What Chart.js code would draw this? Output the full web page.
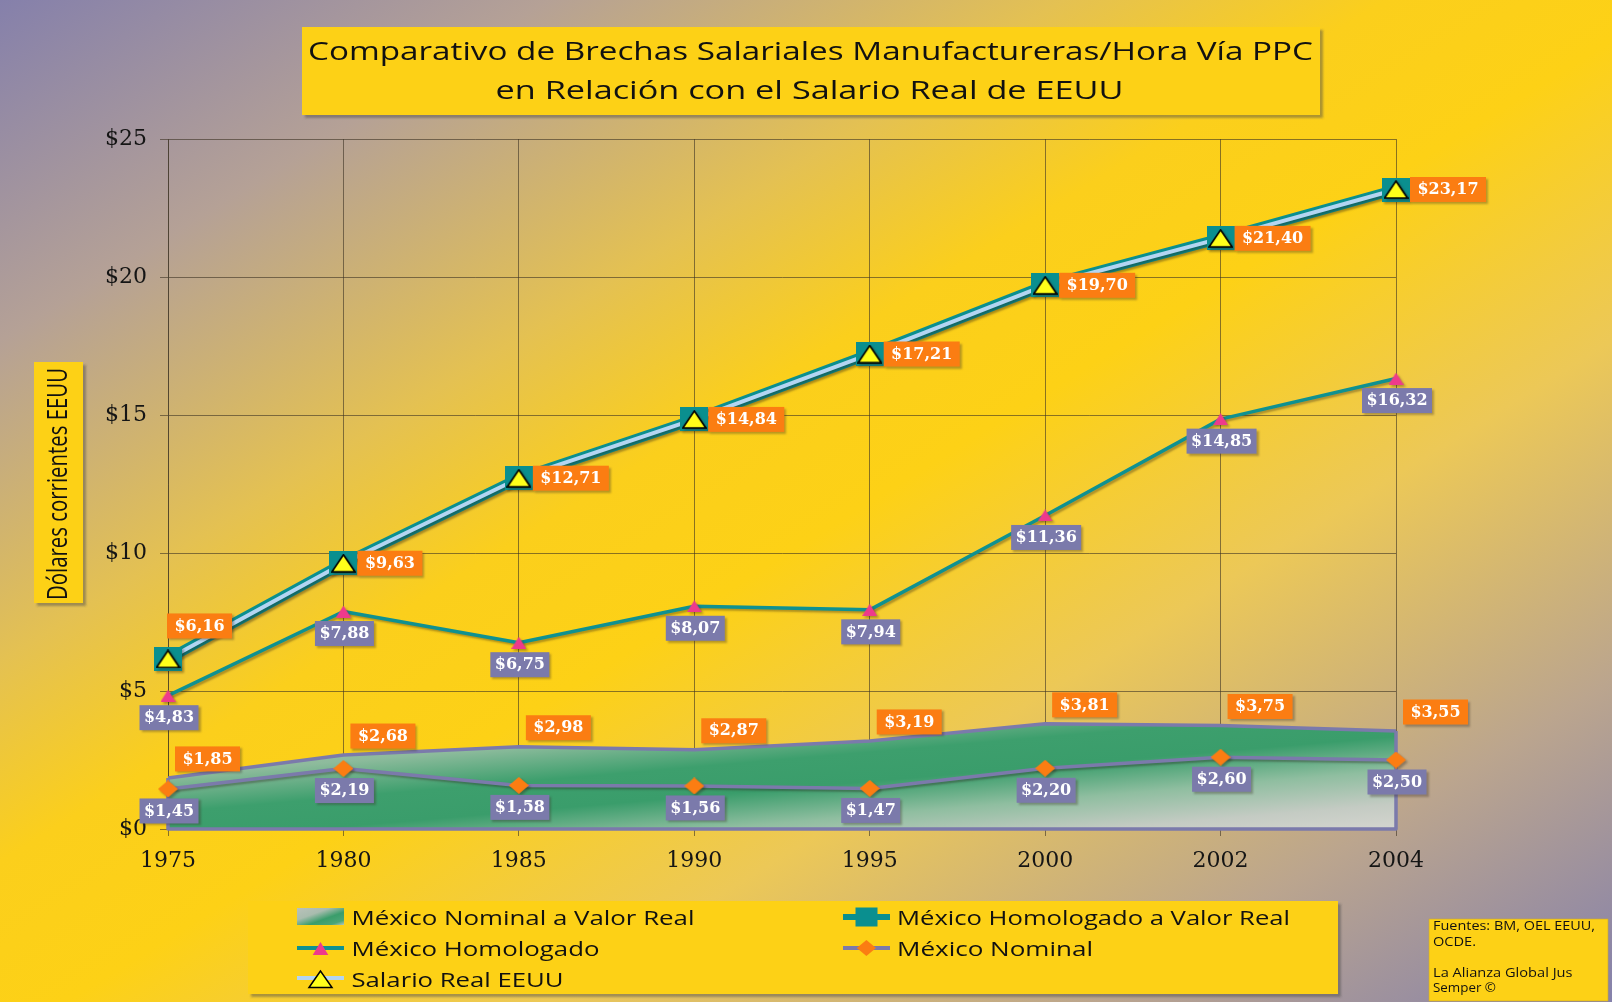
<!DOCTYPE html>
<html><head><meta charset="utf-8">
<script src="https://cdn.jsdelivr.net/npm/chart.js@4.4.1/dist/chart.umd.min.js"></script>
<style>
html,body{margin:0;padding:0;}
body{width:1612px;height:1002px;overflow:hidden;
background:linear-gradient(to bottom right,#8580ab 0%,#b5a196 17%,#e4c152 33%,#fbcf1c 43%,#fdd116 52%,#ecc857 67%,#bba58e 84%,#8581ab 100%);}
#wrap{position:relative;width:1612px;height:1002px;}
#c{position:absolute;left:0;top:0;}
#ov{position:absolute;left:0;top:0;pointer-events:none;}
#ov text{font-family:'Open Sans',sans-serif;fill:#111;}
</style></head>
<body>
<div id="wrap">
<canvas id="c" width="1612" height="1002"></canvas>
<svg id="ov" width="1612" height="1002" viewBox="0 0 1612 1002" xmlns="http://www.w3.org/2000/svg">
<defs>
<filter id="sh" x="-5%" y="-5%" width="115%" height="130%"><feDropShadow dx="3" dy="3" stdDeviation="1.2" flood-color="#4a4a4a" flood-opacity="0.45"/></filter>
<linearGradient id="swg" x1="0" y1="0" x2="1" y2="1">
<stop offset="0" stop-color="#b9c2ba"/><stop offset="0.35" stop-color="#a9bcae"/><stop offset="0.62" stop-color="#3a9d6b"/><stop offset="0.85" stop-color="#4aa577"/><stop offset="1" stop-color="#b8c6bc"/>
</linearGradient>
</defs>
<!-- title -->
<rect x="302" y="27" width="1018" height="88" fill="#fdd116" filter="url(#sh)"/>
<text x="308" y="60" font-size="26" textLength="1005" lengthAdjust="spacingAndGlyphs">Comparativo de Brechas Salariales Manufactureras/Hora Vía PPC</text>
<text x="495.5" y="99" font-size="26" textLength="628" lengthAdjust="spacingAndGlyphs">en Relación con el Salario Real de EEUU</text>
<!-- y title -->
<rect x="34" y="362" width="49" height="241" fill="#fdd116" filter="url(#sh)"/>
<text transform="translate(66.5,600) rotate(-90)" x="0" y="0" font-size="27" textLength="232" lengthAdjust="spacingAndGlyphs">Dólares corrientes EEUU</text>
<!-- legend -->
<rect x="248" y="901" width="1090" height="93" fill="#fdd116" filter="url(#sh)"/>
<rect x="297" y="908" width="47" height="17" fill="url(#swg)"/>
<text x="351.5" y="925" font-size="20" textLength="343" lengthAdjust="spacingAndGlyphs">México Nominal a Valor Real</text>
<line x1="843" y1="917" x2="890" y2="917" stroke="#0a8f8f" stroke-width="6"/>
<rect x="855.5" y="907.5" width="22" height="19" fill="#0a8f8f"/>
<text x="897" y="925" font-size="20" textLength="393" lengthAdjust="spacingAndGlyphs">México Homologado a Valor Real</text>
<line x1="297" y1="948" x2="344" y2="948" stroke="#0f9190" stroke-width="4"/>
<polygon points="320.5,942 312.7,955 328.3,955" fill="#ee3a8c"/>
<text x="351.5" y="956" font-size="20" textLength="248" lengthAdjust="spacingAndGlyphs">México Homologado</text>
<line x1="843" y1="948" x2="890" y2="948" stroke="#7b7aab" stroke-width="4"/>
<polygon points="866.4,940 876,948 866.4,956 856.8,948" fill="#fb7d12"/>
<text x="897" y="956" font-size="20" textLength="196" lengthAdjust="spacingAndGlyphs">México Nominal</text>
<line x1="297" y1="978" x2="344" y2="978" stroke="#b3d5f2" stroke-width="4"/>
<polygon points="320.5,971 309,987.5 332,987.5" fill="#ffff1a" stroke="#000" stroke-width="1.5"/>
<text x="351.5" y="987" font-size="20" textLength="212" lengthAdjust="spacingAndGlyphs">Salario Real EEUU</text>
<!-- source -->
<rect x="1429" y="919" width="179" height="82" fill="#fdd116" stroke="#c9a830" stroke-width="0.6"/>
<text x="1433" y="930" font-size="12.5" textLength="162" lengthAdjust="spacingAndGlyphs">Fuentes: BM, OEL EEUU,</text>
<text x="1433" y="945.5" font-size="12.5" textLength="43" lengthAdjust="spacingAndGlyphs">OCDE.</text>
<text x="1433" y="976.5" font-size="12.5" textLength="139.5" lengthAdjust="spacingAndGlyphs">La Alianza Global Jus</text>
<text x="1433" y="992" font-size="12.5" textLength="63" lengthAdjust="spacingAndGlyphs">Semper ©</text>
</svg>
</div>
<script>
// ---- data ----
const years = ['1975','1980','1985','1990','1995','2000','2002','2004'];
const yTicks = [0, 5, 10, 15, 20, 25];
const mexicoNominalValorReal = [1.85, 2.68, 2.98, 2.87, 3.19, 3.81, 3.75, 3.55];
const mexicoHomologadoValorReal = [6.16, 9.63, 12.71, 14.84, 17.21, 19.70, 21.40, 23.17];
const mexicoHomologado = [4.83, 7.88, 6.75, 8.07, 7.94, 11.36, 14.85, 16.32];
const mexicoNominal = [1.45, 2.19, 1.58, 1.56, 1.47, 2.20, 2.60, 2.50];
const salarioRealEEUU = [6.16, 9.63, 12.71, 14.84, 17.21, 19.70, 21.40, 23.17];

// ---- styles ----
const TEAL = '#0a8f8f', TEAL2 = '#0f9190', PURPLE = '#7b7aab', ORANGE = '#fb7d12',
      PINK = '#ee3a8c', LBLUE = '#b3d5f2', YELLOW = '#ffff1a';

function mk(w, h, draw) {
  const c = document.createElement('canvas'); c.width = w; c.height = h;
  draw(c.getContext('2d'), w, h); return c;
}
const tealRect = mk(28, 24, (g, w, h) => { g.fillStyle = TEAL; g.fillRect(0, 0, w, h); });
const yellowTri = mk(25, 19, (g, w, h) => {
  g.beginPath(); g.moveTo(w / 2, 1); g.lineTo(w - 1, h - 1); g.lineTo(1, h - 1); g.closePath();
  g.fillStyle = YELLOW; g.fill(); g.lineWidth = 1.6; g.strokeStyle = '#000'; g.lineJoin = 'miter'; g.stroke();
});
const pinkTri = mk(15, 12, (g, w, h) => {
  g.beginPath(); g.moveTo(w / 2, 0); g.lineTo(w, h); g.lineTo(0, h); g.closePath(); g.fillStyle = PINK; g.fill();
});
const diamond = mk(20, 17, (g, w, h) => {
  g.beginPath(); g.moveTo(w / 2, 0); g.lineTo(w, h / 2); g.lineTo(w / 2, h); g.lineTo(0, h / 2); g.closePath();
  g.fillStyle = ORANGE; g.fill();
});

function areaGradient(ctx) {
  const c = ctx.chart;
  if (!c.chartArea) return 'rgba(0,0,0,0)';
  const xs = c.scales.x, ys = c.scales.y;
  const x0 = xs.getPixelForValue(0), x1 = xs.getPixelForValue(years.length - 1);
  const y0 = ys.getPixelForValue(Math.max(...mexicoNominalValorReal)), y1 = ys.getPixelForValue(0);
  const W = x1 - x0, H = y1 - y0;
  const s = 2 / (1 / (W * W) + 1 / (H * H));
  const g = c.ctx.createLinearGradient(x0, y0, x0 + s / W, y0 + s / H);
  g.addColorStop(0, '#b8c4ba');
  g.addColorStop(0.25, '#8dbb9c');
  g.addColorStop(0.42, '#3d9f6d');
  g.addColorStop(0.56, '#3a9d6b');
  g.addColorStop(0.72, '#8fbea0');
  g.addColorStop(0.88, '#c4cbc3');
  g.addColorStop(1, '#d4d5cf');
  return g;
}

const AREA = 0, NOM = 1, HOM = 2, HVRL = 3, SALL = 4, HVRP = 5, SALP = 6;

const datasets = [
  { data: mexicoNominalValorReal, fill: 'origin', backgroundColor: areaGradient, borderColor: PURPLE, borderWidth: 3.5, pointRadius: 0, order: 10, clip: false },
  { data: mexicoNominal, fill: false, borderColor: PURPLE, borderWidth: 3.5, pointStyle: diamond, pointRadius: 10, order: 9, clip: false },
  { data: mexicoHomologado, fill: false, borderColor: TEAL2, borderWidth: 3.5, pointStyle: pinkTri, pointRadius: 8, order: 8, clip: false },
  { data: mexicoHomologadoValorReal, fill: false, borderColor: TEAL, borderWidth: 10, pointRadius: 0, order: 7, clip: false },
  { data: salarioRealEEUU, fill: false, borderColor: LBLUE, borderWidth: 4, pointRadius: 0, order: 6, clip: false },
  { data: mexicoHomologadoValorReal, showLine: false, pointStyle: tealRect, pointRadius: 14, order: 5, clip: false },
  { data: salarioRealEEUU, showLine: false, pointStyle: yellowTri, pointRadius: 12, order: 4, clip: false }
];

function fmt(v) { return '$' + v.toFixed(2).replace('.', ','); }

const labelSpecs = [
  { ds: SALP, color: ORANGE, pad: 15, place: 'right' },
  { ds: AREA, color: ORANGE, pad: 15, place: 'aboveRight' },
  { ds: HOM, color: PURPLE, pad: 9, place: 'below' },
  { ds: NOM, color: PURPLE, pad: 9, place: 'below' }
];

const fxPlugin = {
  id: 'fx',
  beforeDatasetDraw(chart, args) {
    const ctx = chart.ctx; ctx.save();
    if (args.index !== AREA) {
      ctx.shadowColor = 'rgba(40,30,20,0.35)'; ctx.shadowOffsetX = 2; ctx.shadowOffsetY = 2; ctx.shadowBlur = 2;
    }
  },
  afterDatasetDraw(chart, args) {
    const ctx = chart.ctx; ctx.restore();
    if (args.index === AREA) {
      const pts = args.meta.data, ys = chart.scales.y;
      const yb = ys.getPixelForValue(0);
      ctx.save();
      ctx.strokeStyle = PURPLE; ctx.lineWidth = 3.5; ctx.lineJoin = 'round';
      ctx.beginPath();
      ctx.moveTo(pts[0].x, pts[0].y); ctx.lineTo(pts[0].x, yb);
      ctx.lineTo(pts[pts.length - 1].x, yb); ctx.lineTo(pts[pts.length - 1].x, pts[pts.length - 1].y);
      ctx.stroke(); ctx.restore();
    }
  },
  afterDatasetsDraw(chart) {
    const ctx = chart.ctx;
    ctx.save();
    ctx.font = 'bold 16px "DejaVu Serif"';
    ctx.textAlign = 'center'; ctx.textBaseline = 'middle';
    const BH = 25;
    labelSpecs.forEach(spec => {
      const meta = chart.getDatasetMeta(spec.ds);
      const vals = chart.data.datasets[spec.ds].data;
      meta.data.forEach((p, i) => {
        const t = fmt(vals[i]);
        const bw = Math.round(ctx.measureText(t).width + spec.pad);
        let left, cy;
        if (spec.place === 'right') {
          if (i === 0) { left = p.x - 1; cy = p.y - 33; } else { left = p.x + 14; cy = p.y; }
        } else if (spec.place === 'aboveRight') { left = p.x + 7; cy = p.y - 19; }
        else { left = p.x - bw / 2 + 1; cy = p.y + 22; }
        const top = cy - BH / 2;
        ctx.save();
        ctx.shadowColor = 'rgba(60,50,40,0.35)'; ctx.shadowOffsetX = 2; ctx.shadowOffsetY = 2; ctx.shadowBlur = 2;
        ctx.fillStyle = spec.color; ctx.fillRect(left, top, bw, BH);
        ctx.restore();
        ctx.fillStyle = '#ffffff';
        ctx.fillText(t, left + bw / 2, cy + 0.5);
      });
    });
    ctx.restore();
  }
};

const GRID = 'rgba(60,50,35,0.6)';
new Chart(document.getElementById('c'), {
  type: 'line',
  data: { labels: years, datasets },
  options: {
    responsive: false, animation: false, events: [],
    layout: { padding: { left: 0, right: 216, top: 139, bottom: 0 } },
    plugins: { legend: { display: false }, title: { display: false }, tooltip: { enabled: false } },
    elements: { line: { tension: 0, borderJoinStyle: 'round', borderCapStyle: 'butt' } },
    scales: {
      x: {
        type: 'category', offset: false,
        grid: { color: GRID, lineWidth: 1, tickLength: 7, offset: false },
        border: { color: GRID, width: 1 },
        ticks: { color: '#151515', font: { family: 'DejaVu Serif', size: 22 }, padding: 12, maxRotation: 0, autoSkip: false },
        afterFit: s => { s.height = 173; }
      },
      y: {
        min: 0, max: 25,
        grid: { color: GRID, lineWidth: 1, tickLength: 8 },
        border: { color: GRID, width: 1 },
        ticks: { color: '#151515', font: { family: 'DejaVu Serif', size: 22 }, padding: 13, callback: v => '$' + v },
        afterBuildTicks: s => { s.ticks = yTicks.map(v => ({ value: v })); },
        afterFit: s => { s.width = 168; }
      }
    }
  },
  plugins: [fxPlugin]
});
</script>
</body></html>
